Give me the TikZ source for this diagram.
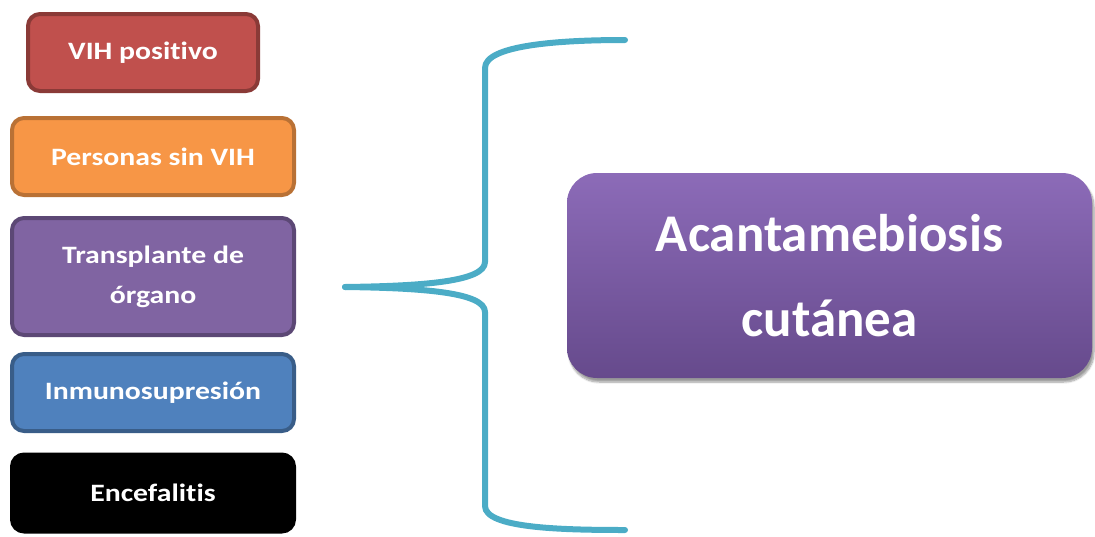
\documentclass[tikz,border=0pt]{standalone}
\usepackage{fontspec}
\setmainfont{Carlito}[Ligatures=NoCommon]
\newfontfamily\boxfont{Carlito}[Ligatures=NoCommon, FakeStretch=1.19]
\usetikzlibrary{shadows,shadows.blur}
\definecolor{cRed}{HTML}{C0504D}
\definecolor{cOrange}{HTML}{F79646}
\definecolor{cPurple}{HTML}{8064A2}
\definecolor{cBlue}{HTML}{4F81BD}
\definecolor{cTeal}{HTML}{4BACC6}
\definecolor{bigTop}{HTML}{8C6BB8}
\definecolor{bigBot}{HTML}{664A8C}
\tikzset{
  smallbox/.style={rounded corners=12pt, line width=4pt, minimum height=77pt,
     text=white, font=\boxfont\fontsize{25}{40}\selectfont\bfseries, align=center,
     inner sep=0pt},
  bigbox/.style={rounded corners=30pt, draw=none, minimum width=525pt, minimum height=205pt,
     top color=bigTop, bottom color=bigBot, text=white, align=center,
     font=\fontsize{53}{85}\selectfont\bfseries, blur shadow={shadow xshift=2pt, shadow yshift=-4pt, shadow blur steps=8}},
  bracestyle/.style={cTeal, line width=6pt, line cap=round, line join=round}
}
\begin{document}
\begin{tikzpicture}[x=1pt,y=-1pt]
\useasboundingbox (0,0) rectangle (1095,536);
\node[smallbox, fill=cRed, draw=cRed!72!black, minimum width=230pt] (vih) at (143,52.5) {VIH positivo};
\node[smallbox, fill=cOrange, draw=cOrange!75!black, minimum width=282pt] (sin) at (153,156.5) {Personas sin VIH};
\node[smallbox, fill=cPurple, draw=cPurple!72!black, minimum width=282pt, minimum height=117pt] (tra) at (153,276.5) {Transplante de\\órgano};
\node[smallbox, fill=cBlue, draw=cBlue!72!black, minimum width=282pt] (inm) at (153,392.5) {Inmunosupresión};
\node[smallbox, fill=black, draw=black, minimum width=282pt] (enc) at (153,493) {Encefalitis};

\node[bigbox] (big) at (829.5,275.5) {Acantamebiosis\\cutánea};

\coordinate (tip) at (345,287);
\coordinate (top) at (625,40);
\coordinate (bot) at (625,530);
\draw[bracestyle] (tip) .. controls (420,286) and (485,282) .. (485,262)
  -- (485,68) .. controls (485,45) and (560,40) .. (top);
\draw[bracestyle] (tip) .. controls (420,288) and (485,292) .. (485,312)
  -- (485,506) .. controls (485,528) and (560,530) .. (bot);
\end{tikzpicture}
\end{document}
